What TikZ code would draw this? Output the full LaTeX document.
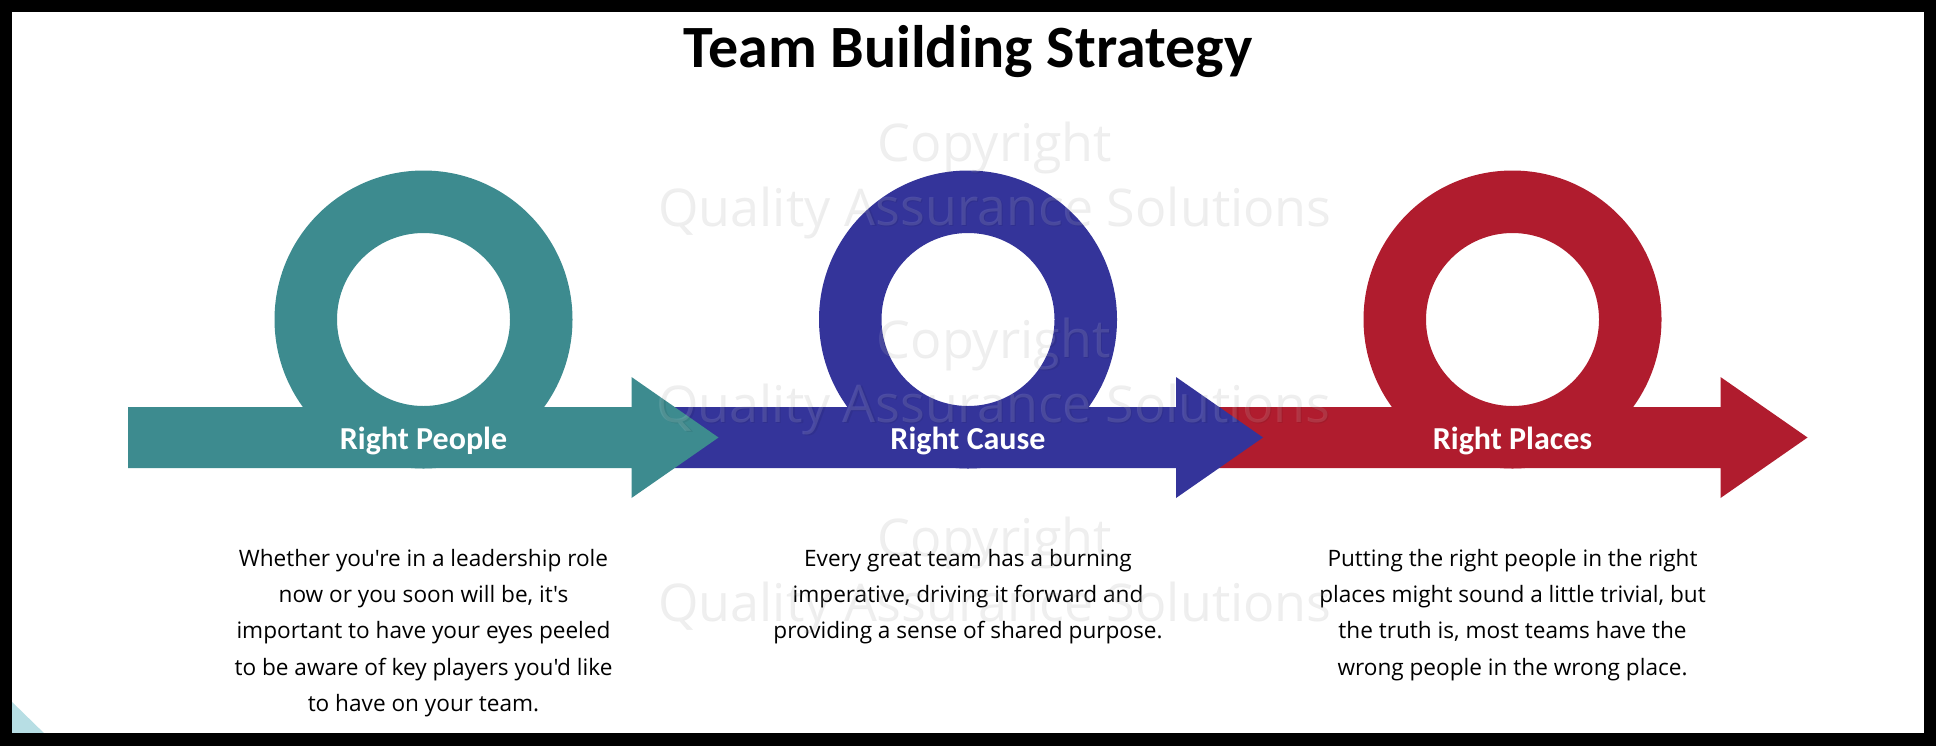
\documentclass[tikz,border=0pt]{standalone}
\usepackage{fontspec}
\setmainfont{Open Sans}[Ligatures=TeXOff]
\newfontfamily\calfont{Carlito}
\definecolor{tealring}{RGB}{61,139,143}
\definecolor{bluering}{RGB}{52,52,154}
\definecolor{redring}{RGB}{176,28,46}
\definecolor{cornercyan}{RGB}{183,222,228}

\begin{document}
\begin{tikzpicture}[x=0.5pt,y=-0.5pt,
  heading/.style={anchor=base,inner sep=0pt,font=\calfont\bfseries\fontsize{30}{32}\selectfont},
  tag/.style={anchor=base,inner sep=0pt,text=white,font=\calfont\bfseries\fontsize{16}{18}\selectfont},
  blurb/.style={anchor=base,inner sep=0pt,align=center,font=\fontsize{11.3}{18.2}\selectfont},
  wmark/.style={anchor=base,inner sep=0pt,align=center,font=\fontsize{26}{32.5}\selectfont}]
  \useasboundingbox (0,0) rectangle (1936,745);
  \fill[white] (0,0) rectangle (1936,745);
  \fill[cornercyan] (8,698) -- (8,737) -- (48,737) -- cycle;
  % rings and arrows, drawn from the right so each head lies on the next shaft
  \foreach \cx/\col in {1512.5/redring,968/bluering,423.5/tealring}{
    \fill[\col,even odd rule] (\cx,319.5) circle[radius=149] (\cx,319.5) circle[radius=86.5];
    \fill[\col] (\cx-295.5,407) -- (\cx+208,407) -- (\cx+208,377) -- (\cx+295,437.5)
      -- (\cx+208,498) -- (\cx+208,468) -- (\cx-295.5,468) -- cycle;
  }
  \node[heading] (title) at (968,67) {Team Building Strategy};
  \node[tag] (people) at (423.5,449) {Right People};
  \node[tag] (cause) at (968,449) {Right Cause};
  \node[tag] (places) at (1512.5,449) {Right Places};
  % base anchor of a multi-line node sits on its last line
  \node[blurb] (peopletext) at (423.5,711.6) {Whether you're in a leadership role\\now or you soon will be, it's\\important to have your eyes peeled\\to be aware of key players you'd like\\to have on your team.};
  \node[blurb] (causetext) at (968,638.8) {Every great team has a burning\\imperative, driving it forward and\\providing a sense of shared purpose.};
  \node[blurb] (placestext) at (1512.5,675.2) {Putting the right people in the right\\places might sound a little trivial, but\\the truth is, most teams have the\\wrong people in the wrong place.};
  % faint embossed watermark
  \foreach \i/\y in {1/225,2/422,3/620}{
    \node[wmark,text=black,text opacity=0.07] (wmshade\i) at (995,\y+1.5) {Copyright\\Quality Assurance Solutions};
    \node[wmark,text=white,text opacity=0.12] (wm\i) at (993.5,\y) {Copyright\\Quality Assurance Solutions};
  }
  \draw[line width=8] (4,4) rectangle (1932,741);
\end{tikzpicture}
\end{document}
